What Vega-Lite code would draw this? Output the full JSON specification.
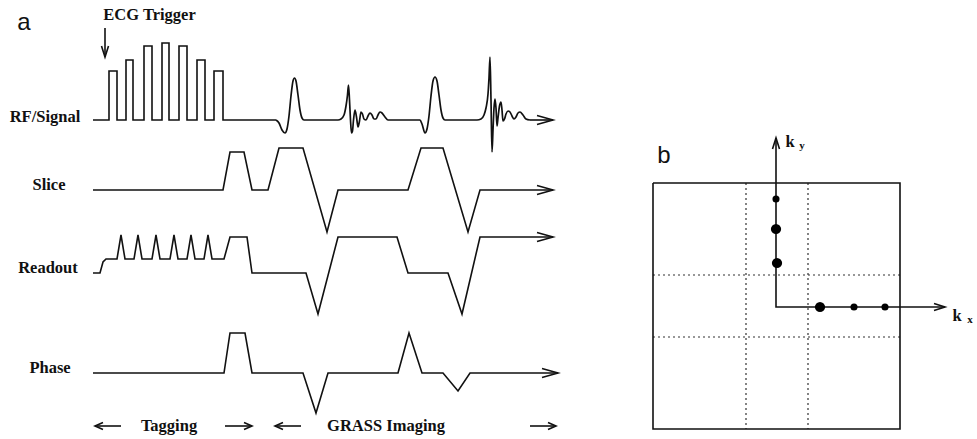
{
  "$schema": "https://vega.github.io/schema/vega-lite/v6.json",
  "width": 977,
  "height": 439,
  "autosize": {"type": "fit", "contains": "padding"},
  "padding": 0,
  "background": "white",
  "config": {"view": {"stroke": null}},
  "datasets": {
    "lin": [
      {"seg": "rfl", "i": 0, "x": 93, "y": 120}, {"seg": "rfl", "i": 1, "x": 109, "y": 120}, {"seg": "rfl", "i": 2, "x": 109, "y": 71}, {"seg": "rfl", "i": 3, "x": 117, "y": 71}, {"seg": "rfl", "i": 4, "x": 117, "y": 120},
      {"seg": "rfl", "i": 5, "x": 126, "y": 120}, {"seg": "rfl", "i": 6, "x": 126, "y": 60}, {"seg": "rfl", "i": 7, "x": 133, "y": 60}, {"seg": "rfl", "i": 8, "x": 133, "y": 120},
      {"seg": "rfl", "i": 9, "x": 144, "y": 120}, {"seg": "rfl", "i": 10, "x": 144, "y": 46}, {"seg": "rfl", "i": 11, "x": 152, "y": 46}, {"seg": "rfl", "i": 12, "x": 152, "y": 120},
      {"seg": "rfl", "i": 13, "x": 162, "y": 120}, {"seg": "rfl", "i": 14, "x": 162, "y": 43}, {"seg": "rfl", "i": 15, "x": 169, "y": 43}, {"seg": "rfl", "i": 16, "x": 169, "y": 120},
      {"seg": "rfl", "i": 17, "x": 179, "y": 120}, {"seg": "rfl", "i": 18, "x": 179, "y": 46}, {"seg": "rfl", "i": 19, "x": 187, "y": 46}, {"seg": "rfl", "i": 20, "x": 187, "y": 120},
      {"seg": "rfl", "i": 21, "x": 197, "y": 120}, {"seg": "rfl", "i": 22, "x": 197, "y": 60}, {"seg": "rfl", "i": 23, "x": 205, "y": 60}, {"seg": "rfl", "i": 24, "x": 205, "y": 120},
      {"seg": "rfl", "i": 25, "x": 214, "y": 120}, {"seg": "rfl", "i": 26, "x": 214, "y": 71}, {"seg": "rfl", "i": 27, "x": 223, "y": 71}, {"seg": "rfl", "i": 28, "x": 223, "y": 120},
      {"seg": "rfl", "i": 29, "x": 276, "y": 120},
      {"seg": "rfa", "i": 0, "x": 530, "y": 120}, {"seg": "rfa", "i": 1, "x": 553, "y": 120},
      {"seg": "rfh", "i": 0, "x": 537, "y": 115.5}, {"seg": "rfh", "i": 1, "x": 553, "y": 120}, {"seg": "rfh", "i": 2, "x": 537, "y": 124.5},
      {"seg": "sl", "i": 0, "x": 93, "y": 190}, {"seg": "sl", "i": 1, "x": 223, "y": 190}, {"seg": "sl", "i": 2, "x": 230, "y": 152}, {"seg": "sl", "i": 3, "x": 244, "y": 152}, {"seg": "sl", "i": 4, "x": 252, "y": 190},
      {"seg": "sl", "i": 5, "x": 268, "y": 190}, {"seg": "sl", "i": 6, "x": 279, "y": 148}, {"seg": "sl", "i": 7, "x": 303, "y": 148}, {"seg": "sl", "i": 8, "x": 327, "y": 232}, {"seg": "sl", "i": 9, "x": 338, "y": 190},
      {"seg": "sl", "i": 10, "x": 408, "y": 190}, {"seg": "sl", "i": 11, "x": 421, "y": 148}, {"seg": "sl", "i": 12, "x": 443, "y": 148}, {"seg": "sl", "i": 13, "x": 468, "y": 232}, {"seg": "sl", "i": 14, "x": 480, "y": 190},
      {"seg": "sl", "i": 15, "x": 553, "y": 190},
      {"seg": "slh", "i": 0, "x": 537, "y": 185.5}, {"seg": "slh", "i": 1, "x": 553, "y": 190}, {"seg": "slh", "i": 2, "x": 537, "y": 194.5},
      {"seg": "ro", "i": 0, "x": 93, "y": 273}, {"seg": "ro", "i": 1, "x": 100, "y": 273}, {"seg": "ro", "i": 2, "x": 103, "y": 262}, {"seg": "ro", "i": 3, "x": 106, "y": 259},
      {"seg": "ro", "i": 4, "x": 117, "y": 259}, {"seg": "ro", "i": 5, "x": 121, "y": 235}, {"seg": "ro", "i": 6, "x": 125, "y": 259},
      {"seg": "ro", "i": 7, "x": 134, "y": 259}, {"seg": "ro", "i": 8, "x": 138, "y": 235}, {"seg": "ro", "i": 9, "x": 142, "y": 259},
      {"seg": "ro", "i": 10, "x": 152, "y": 259}, {"seg": "ro", "i": 11, "x": 156, "y": 235}, {"seg": "ro", "i": 12, "x": 160, "y": 259},
      {"seg": "ro", "i": 13, "x": 170, "y": 259}, {"seg": "ro", "i": 14, "x": 174, "y": 235}, {"seg": "ro", "i": 15, "x": 178, "y": 259},
      {"seg": "ro", "i": 16, "x": 187, "y": 259}, {"seg": "ro", "i": 17, "x": 191, "y": 235}, {"seg": "ro", "i": 18, "x": 195, "y": 259},
      {"seg": "ro", "i": 19, "x": 204, "y": 259}, {"seg": "ro", "i": 20, "x": 208, "y": 235}, {"seg": "ro", "i": 21, "x": 212, "y": 259},
      {"seg": "ro", "i": 22, "x": 224, "y": 259}, {"seg": "ro", "i": 23, "x": 230, "y": 237}, {"seg": "ro", "i": 24, "x": 247, "y": 237}, {"seg": "ro", "i": 25, "x": 252, "y": 273},
      {"seg": "ro", "i": 26, "x": 306, "y": 273}, {"seg": "ro", "i": 27, "x": 318, "y": 314}, {"seg": "ro", "i": 28, "x": 338, "y": 237}, {"seg": "ro", "i": 29, "x": 397, "y": 237},
      {"seg": "ro", "i": 30, "x": 408, "y": 273}, {"seg": "ro", "i": 31, "x": 448, "y": 273}, {"seg": "ro", "i": 32, "x": 462, "y": 314}, {"seg": "ro", "i": 33, "x": 480, "y": 237},
      {"seg": "ro", "i": 34, "x": 553, "y": 237},
      {"seg": "roh", "i": 0, "x": 537, "y": 232.5}, {"seg": "roh", "i": 1, "x": 553, "y": 237}, {"seg": "roh", "i": 2, "x": 537, "y": 241.5},
      {"seg": "ph", "i": 0, "x": 93, "y": 373}, {"seg": "ph", "i": 1, "x": 224, "y": 373}, {"seg": "ph", "i": 2, "x": 230, "y": 333}, {"seg": "ph", "i": 3, "x": 245, "y": 333}, {"seg": "ph", "i": 4, "x": 252, "y": 373},
      {"seg": "ph", "i": 5, "x": 303, "y": 373}, {"seg": "ph", "i": 6, "x": 316, "y": 413}, {"seg": "ph", "i": 7, "x": 328, "y": 373},
      {"seg": "ph", "i": 8, "x": 398, "y": 373}, {"seg": "ph", "i": 9, "x": 409, "y": 333}, {"seg": "ph", "i": 10, "x": 422, "y": 373},
      {"seg": "ph", "i": 11, "x": 443, "y": 373}, {"seg": "ph", "i": 12, "x": 458, "y": 391}, {"seg": "ph", "i": 13, "x": 470, "y": 373}, {"seg": "ph", "i": 14, "x": 558, "y": 373},
      {"seg": "phh", "i": 0, "x": 542, "y": 368.5}, {"seg": "phh", "i": 1, "x": 558, "y": 373}, {"seg": "phh", "i": 2, "x": 542, "y": 377.5},
      {"seg": "trig", "i": 0, "x": 105, "y": 28}, {"seg": "trig", "i": 1, "x": 105, "y": 57},
      {"seg": "trigh", "i": 0, "x": 101.5, "y": 46}, {"seg": "trigh", "i": 1, "x": 105, "y": 57}, {"seg": "trigh", "i": 2, "x": 108.5, "y": 46},
      {"seg": "b1", "i": 0, "x": 95, "y": 426}, {"seg": "b1", "i": 1, "x": 121, "y": 426},
      {"seg": "b1h", "i": 0, "x": 103, "y": 422.5}, {"seg": "b1h", "i": 1, "x": 95, "y": 426}, {"seg": "b1h", "i": 2, "x": 103, "y": 429.5},
      {"seg": "b2", "i": 0, "x": 225, "y": 426}, {"seg": "b2", "i": 1, "x": 252, "y": 426},
      {"seg": "b2h", "i": 0, "x": 244, "y": 422.5}, {"seg": "b2h", "i": 1, "x": 252, "y": 426}, {"seg": "b2h", "i": 2, "x": 244, "y": 429.5},
      {"seg": "b3", "i": 0, "x": 275, "y": 426}, {"seg": "b3", "i": 1, "x": 301, "y": 426},
      {"seg": "b3h", "i": 0, "x": 283, "y": 422.5}, {"seg": "b3h", "i": 1, "x": 275, "y": 426}, {"seg": "b3h", "i": 2, "x": 283, "y": 429.5},
      {"seg": "b4", "i": 0, "x": 530, "y": 426}, {"seg": "b4", "i": 1, "x": 556, "y": 426},
      {"seg": "b4h", "i": 0, "x": 548, "y": 422.5}, {"seg": "b4h", "i": 1, "x": 556, "y": 426}, {"seg": "b4h", "i": 2, "x": 548, "y": 429.5},
      {"seg": "box", "i": 0, "x": 653, "y": 183}, {"seg": "box", "i": 1, "x": 900, "y": 183}, {"seg": "box", "i": 2, "x": 900, "y": 429}, {"seg": "box", "i": 3, "x": 653, "y": 429}, {"seg": "box", "i": 4, "x": 653, "y": 183},
      {"seg": "ax", "i": 0, "x": 776, "y": 138}, {"seg": "ax", "i": 1, "x": 776, "y": 307}, {"seg": "ax", "i": 2, "x": 945, "y": 307},
      {"seg": "kyh", "i": 0, "x": 772.5, "y": 149}, {"seg": "kyh", "i": 1, "x": 776, "y": 138}, {"seg": "kyh", "i": 2, "x": 779.5, "y": 149},
      {"seg": "kxh", "i": 0, "x": 934, "y": 303.5}, {"seg": "kxh", "i": 1, "x": 945, "y": 307}, {"seg": "kxh", "i": 2, "x": 934, "y": 310.5}
    ],
    "curve": [
      {"i": 0, "x": 276, "y": 120}, {"i": 1, "x": 279, "y": 123}, {"i": 2, "x": 282, "y": 130}, {"i": 3, "x": 285, "y": 133}, {"i": 4, "x": 287, "y": 129},
      {"i": 5, "x": 289, "y": 116}, {"i": 6, "x": 291, "y": 96}, {"i": 7, "x": 293, "y": 81}, {"i": 8, "x": 294.5, "y": 78}, {"i": 9, "x": 296, "y": 81},
      {"i": 10, "x": 298, "y": 95}, {"i": 11, "x": 300, "y": 110}, {"i": 12, "x": 302, "y": 118}, {"i": 13, "x": 304, "y": 120}, {"i": 14, "x": 338, "y": 120},
      {"i": 15, "x": 341, "y": 119}, {"i": 16, "x": 344, "y": 115}, {"i": 17, "x": 346, "y": 106}, {"i": 18, "x": 347.5, "y": 95}, {"i": 19, "x": 348.5, "y": 85},
      {"i": 20, "x": 349.5, "y": 100}, {"i": 21, "x": 350.5, "y": 120}, {"i": 22, "x": 351.5, "y": 133}, {"i": 23, "x": 352.5, "y": 131}, {"i": 24, "x": 353.5, "y": 120},
      {"i": 25, "x": 355, "y": 110}, {"i": 26, "x": 356.5, "y": 117}, {"i": 27, "x": 358, "y": 127}, {"i": 28, "x": 359.5, "y": 121}, {"i": 29, "x": 361, "y": 112},
      {"i": 30, "x": 362.5, "y": 114}, {"i": 31, "x": 364, "y": 119}, {"i": 32, "x": 366, "y": 120}, {"i": 33, "x": 368, "y": 116}, {"i": 34, "x": 370, "y": 113},
      {"i": 35, "x": 372, "y": 115}, {"i": 36, "x": 374, "y": 119}, {"i": 37, "x": 376, "y": 119}, {"i": 38, "x": 378, "y": 115}, {"i": 39, "x": 380, "y": 112},
      {"i": 40, "x": 382, "y": 113}, {"i": 41, "x": 385, "y": 117}, {"i": 42, "x": 388, "y": 120}, {"i": 43, "x": 420, "y": 120}, {"i": 44, "x": 422, "y": 124},
      {"i": 45, "x": 425, "y": 133}, {"i": 46, "x": 427, "y": 129}, {"i": 47, "x": 429, "y": 116}, {"i": 48, "x": 431, "y": 96}, {"i": 49, "x": 433, "y": 81},
      {"i": 50, "x": 435, "y": 77}, {"i": 51, "x": 437, "y": 81}, {"i": 52, "x": 439, "y": 95}, {"i": 53, "x": 441, "y": 110}, {"i": 54, "x": 443, "y": 118},
      {"i": 55, "x": 445, "y": 120}, {"i": 56, "x": 477, "y": 120}, {"i": 57, "x": 481, "y": 119}, {"i": 58, "x": 484, "y": 115}, {"i": 59, "x": 486, "y": 108},
      {"i": 60, "x": 488, "y": 94}, {"i": 61, "x": 489, "y": 78}, {"i": 62, "x": 490, "y": 57}, {"i": 63, "x": 491, "y": 100}, {"i": 64, "x": 492, "y": 152},
      {"i": 65, "x": 493, "y": 130}, {"i": 66, "x": 494, "y": 108}, {"i": 67, "x": 495, "y": 99}, {"i": 68, "x": 496, "y": 108}, {"i": 69, "x": 497, "y": 126},
      {"i": 70, "x": 498, "y": 118}, {"i": 71, "x": 499.5, "y": 106}, {"i": 72, "x": 501, "y": 102}, {"i": 73, "x": 502, "y": 110}, {"i": 74, "x": 503, "y": 121},
      {"i": 75, "x": 504.5, "y": 119}, {"i": 76, "x": 506, "y": 114}, {"i": 77, "x": 508, "y": 111}, {"i": 78, "x": 510, "y": 112}, {"i": 79, "x": 512, "y": 116},
      {"i": 80, "x": 514, "y": 119}, {"i": 81, "x": 516, "y": 117}, {"i": 82, "x": 518, "y": 113}, {"i": 83, "x": 520, "y": 112}, {"i": 84, "x": 523, "y": 115},
      {"i": 85, "x": 526, "y": 119}, {"i": 86, "x": 530, "y": 120}
    ],
    "grid": [
      {"xa": 746, "ya": 183, "xb": 746, "yb": 429},
      {"xa": 808, "ya": 183, "xb": 808, "yb": 429},
      {"xa": 653, "ya": 275, "xb": 900, "yb": 275},
      {"xa": 653, "ya": 337, "xb": 900, "yb": 337}
    ],
    "dots": [
      {"x": 776, "y": 199, "kind": "small"},
      {"x": 776, "y": 229, "kind": "large"},
      {"x": 777, "y": 263, "kind": "large"},
      {"x": 820, "y": 307, "kind": "large"},
      {"x": 854, "y": 307, "kind": "small"},
      {"x": 885, "y": 307, "kind": "small"}
    ],
    "labels": [
      {"t": "ECG Trigger", "x": 149.5, "y": 20},
      {"t": "RF/Signal", "x": 45, "y": 122},
      {"t": "Slice", "x": 49, "y": 190},
      {"t": "Readout", "x": 48, "y": 273},
      {"t": "Phase", "x": 50, "y": 373},
      {"t": "Tagging", "x": 169, "y": 431},
      {"t": "GRASS Imaging", "x": 386, "y": 431},
      {"t": "k", "x": 790, "y": 147},
      {"t": "k", "x": 957, "y": 321}
    ],
    "subs": [
      {"t": "y", "x": 802, "y": 149},
      {"t": "x", "x": 970, "y": 323}
    ],
    "panels": [
      {"t": "a", "x": 24, "y": 30},
      {"t": "b", "x": 664, "y": 163}
    ]
  },
  "layer": [
    {
      "data": {"name": "grid"},
      "mark": {"type": "rule", "color": "#333", "strokeWidth": 1.2, "strokeDash": [2, 3]},
      "encoding": {
        "x": {"field": "xa", "type": "quantitative", "scale": {"domain": [0, 977], "nice": false, "zero": false}, "axis": null},
        "y": {"field": "ya", "type": "quantitative", "scale": {"domain": [0, 439], "reverse": true, "nice": false, "zero": false}, "axis": null},
        "x2": {"field": "xb"},
        "y2": {"field": "yb"}
      }
    },
    {
      "data": {"name": "lin"},
      "mark": {"type": "line", "color": "#111", "strokeWidth": 1.6, "interpolate": "linear", "strokeJoin": "miter"},
      "encoding": {
        "x": {"field": "x", "type": "quantitative", "scale": {"domain": [0, 977], "nice": false, "zero": false}, "axis": null},
        "y": {"field": "y", "type": "quantitative", "scale": {"domain": [0, 439], "reverse": true, "nice": false, "zero": false}, "axis": null},
        "detail": {"field": "seg", "type": "nominal"},
        "order": {"field": "i", "type": "quantitative"}
      }
    },
    {
      "data": {"name": "curve"},
      "mark": {"type": "line", "color": "#111", "strokeWidth": 1.7, "interpolate": "monotone"},
      "encoding": {
        "x": {"field": "x", "type": "quantitative", "scale": {"domain": [0, 977], "nice": false, "zero": false}, "axis": null},
        "y": {"field": "y", "type": "quantitative", "scale": {"domain": [0, 439], "reverse": true, "nice": false, "zero": false}, "axis": null},
        "order": {"field": "i", "type": "quantitative"}
      }
    },
    {
      "data": {"name": "dots"},
      "mark": {"type": "point", "filled": true, "shape": "circle", "color": "#000", "opacity": 1},
      "encoding": {
        "x": {"field": "x", "type": "quantitative", "scale": {"domain": [0, 977], "nice": false, "zero": false}, "axis": null},
        "y": {"field": "y", "type": "quantitative", "scale": {"domain": [0, 439], "reverse": true, "nice": false, "zero": false}, "axis": null},
        "size": {"field": "kind", "type": "nominal", "scale": {"domain": ["small", "large"], "range": [50, 105]}, "legend": null}
      }
    },
    {
      "data": {"name": "labels"},
      "mark": {"type": "text", "font": "Liberation Serif", "fontWeight": "bold", "fontSize": 16.5, "align": "center", "baseline": "alphabetic", "color": "#111"},
      "encoding": {
        "x": {"field": "x", "type": "quantitative", "scale": {"domain": [0, 977], "nice": false, "zero": false}, "axis": null},
        "y": {"field": "y", "type": "quantitative", "scale": {"domain": [0, 439], "reverse": true, "nice": false, "zero": false}, "axis": null},
        "text": {"field": "t", "type": "nominal"}
      }
    },
    {
      "data": {"name": "subs"},
      "mark": {"type": "text", "font": "Liberation Serif", "fontWeight": "bold", "fontSize": 11, "align": "center", "baseline": "alphabetic", "color": "#111"},
      "encoding": {
        "x": {"field": "x", "type": "quantitative", "scale": {"domain": [0, 977], "nice": false, "zero": false}, "axis": null},
        "y": {"field": "y", "type": "quantitative", "scale": {"domain": [0, 439], "reverse": true, "nice": false, "zero": false}, "axis": null},
        "text": {"field": "t", "type": "nominal"}
      }
    },
    {
      "data": {"name": "panels"},
      "mark": {"type": "text", "font": "Liberation Sans", "fontSize": 24, "align": "center", "baseline": "alphabetic", "color": "#111"},
      "encoding": {
        "x": {"field": "x", "type": "quantitative", "scale": {"domain": [0, 977], "nice": false, "zero": false}, "axis": null},
        "y": {"field": "y", "type": "quantitative", "scale": {"domain": [0, 439], "reverse": true, "nice": false, "zero": false}, "axis": null},
        "text": {"field": "t", "type": "nominal"}
      }
    }
  ]
}
